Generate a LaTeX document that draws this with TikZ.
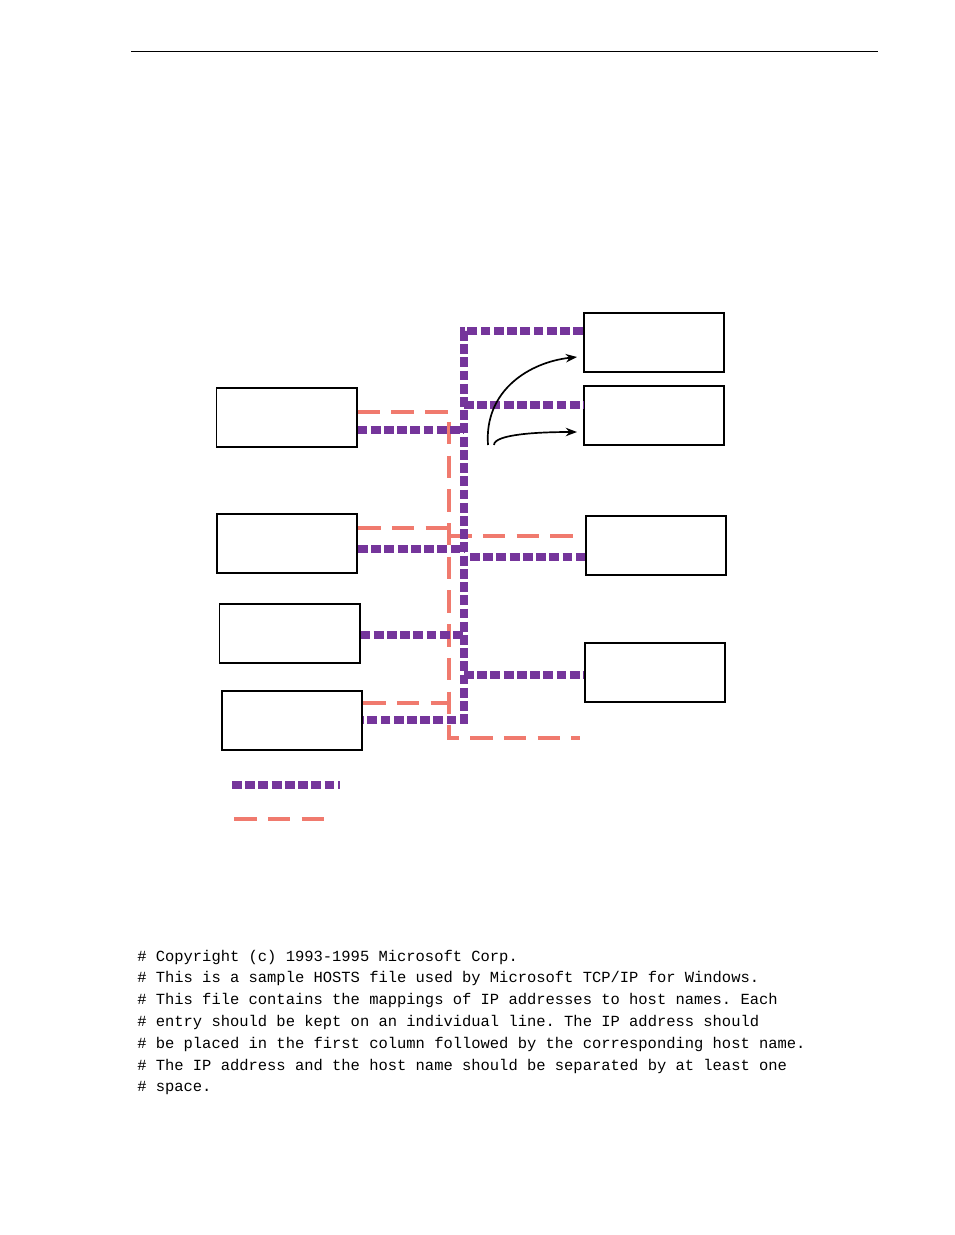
\documentclass[tikz,border=0pt]{standalone}
\usepackage{fontspec}
\setmonofont{Liberation Mono}
\usetikzlibrary{positioning, arrows.meta}
\definecolor{busviolet}{RGB}{117,53,155}
\definecolor{bussalmon}{RGB}{240,122,110}

\begin{document}
\begin{tikzpicture}[x=0.025cm, y=-0.025cm,
  hostbox/.style={draw, line width=1.4pt, minimum width=3.5cm, minimum height=1.475cm, inner sep=0pt},
  vline/.style={busviolet, line width=5pt, dash pattern=on 7pt off 2.4pt},
  sline/.style={bussalmon, line width=3.5pt, dash pattern=on 16pt off 8pt}]

\useasboundingbox (0,0) rectangle (954,1235);
\draw[line width=0.5pt] (131,51) -- (878,51);

% Left hosts
\node[hostbox] (left1) at (286.5,417.5) {};
\node[hostbox] (left2) at (287,543.5) {};
\node[hostbox] (left3) at (289.5,633.5) {};
\node[hostbox] (left4) at (292,720.5) {};

% Right hosts
\node[hostbox] (right1) at (654,342.5) {};
\node[hostbox] (right2) at (654,415.5) {};
\node[hostbox] (right3) at (656,545.5) {};
\node[hostbox] (right4) at (655,672.5) {};

% Bus corners
\coordinate (vtop) at (464,331);
\coordinate (vbot) at (464,720);
\coordinate (stop) at (449,412);
\coordinate (sbot) at (449,738);

% Salmon network
\draw[sline] (left1.east |- stop) -- (stop) -- (sbot) -- (580,738);
\draw[sline] (left2.east |- 0,528) -- (449,528);
\draw[sline] (449,536) -- (580,536);
\draw[sline] (left4.east |- 0,703) -- (449,703);

% Violet network
\draw[vline] (right1.west |- vtop) -- (vtop) -- (vbot) -- (left4.east |- vbot);
\draw[vline] (left1.east |- 0,430) -- (464,430);
\draw[vline] (464,405) -- (right2.west |- 0,405);
\draw[vline] (left2.east |- 0,549) -- (464,549);
\draw[vline] (470,557) -- (right3.west |- 0,557);
\draw[vline] (left3.east |- 0,635) -- (464,635);
\draw[vline] (464,675) -- (right4.west |- 0,675);

% Arrows
\coordinate (arr1) at (488,445);
\coordinate (arr2) at (494,445);
\draw[-{Stealth[length=8pt]}, line width=1.2pt] (arr1) .. controls (484,390) and (530,362) .. (577,357);
\draw[-{Stealth[length=8pt]}, line width=1.2pt] (arr2) .. controls (494,434) and (540,432) .. (577,432);

% Legend
\draw[vline] (232,785) -- (340,785);
\draw[sline] (234,819) -- (328,819);

% HOSTS excerpt
\foreach \txt [count=\i] in {{\# Copyright (c) 1993-1995 Microsoft Corp.},
  {\# This is a sample HOSTS file used by Microsoft TCP/IP for Windows.},
  {\# This file contains the mappings of IP addresses to host names. Each},
  {\# entry should be kept on an individual line. The IP address should},
  {\# be placed in the first column followed by the corresponding host name.},
  {\# The IP address and the host name should be separated by at least one},
  {\# space.}}
  \node[anchor=west, inner sep=0pt, font=\ttfamily\fontsize{11}{13}\selectfont] (line\i) at (137,{957+21.8*(\i-1)}) {\txt};

\end{tikzpicture}
\end{document}
